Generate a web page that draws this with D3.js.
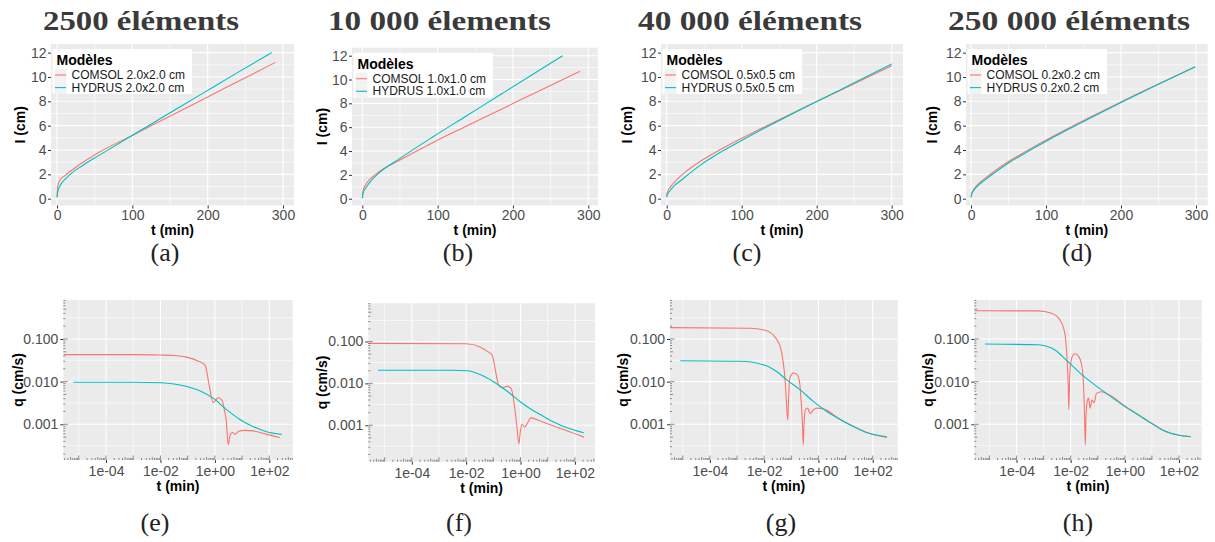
<!DOCTYPE html>
<html><head><meta charset="utf-8">
<script src="https://cdn.jsdelivr.net/npm/d3@7"></script>
<style>body{margin:0;background:#fff} svg{display:block}</style>
</head><body>
<svg id="c" width="1215" height="542"></svg>
<script>
// ---------------- DATA ----------------
const panelTitles = ["2500 éléments", "10 000 élements", "40 000 éléments", "250 000 éléments"];
const captionsTop = ["(a)", "(b)", "(c)", "(d)"];
const captionsBottom = ["(e)", "(f)", "(g)", "(h)"];
const seriesNames = ["COMSOL", "HYDRUS"];
const meshSizes = ["2.0x2.0 cm", "1.0x1.0 cm", "0.5x0.5 cm", "0.2x0.2 cm"];
const legendTitle = "Modèles";

const tTicks = [0, 100, 200, 300];
const tMinorBreaks = [50, 150, 250];
const iTicks = [0, 2, 4, 6, 8, 10, 12];
const iMinorBreaks = [1, 3, 5, 7, 9, 11];
const tLogTicks = [1e-4, 1e-2, 1, 100];
const tLogTickLabels = ["1e-04", "1e-02", "1e+00", "1e+02"];
const tLogMinorBreaks = [1e-5, 1e-3, 0.1, 10];
const qTicks = [0.001, 0.01, 0.1];
const qTickLabels = ["0.001", "0.010", "0.100"];
const qMinorBreaks = [0.000316, 0.00316, 0.0316, 0.316];

// cumulative infiltration I (cm) vs t (min)
const infilA_COMSOL = [[0,0.15],[0.5,0.8],[1.5,1.2],[3.5,1.5],[10,1.88],[25,2.58],[57,3.85],[100,5.2],[130,6.15],[168,7.35],[200,8.36],[250,9.94],[290,11.2]];
const infilA_HYDRUS = [[0,0.1],[1,0.55],[3.5,1.0],[12,1.67],[35,2.77],[57,3.6],[99,5.17],[145,6.87],[190,8.53],[240,10.38],[285,12.0]];
const infilB_COMSOL = [[0,0.3],[1.3,0.73],[5.7,1.29],[19,2.1],[50,3.24],[94,4.72],[138,6.08],[170,7.06],[200,7.98],[236,9.08],[289,10.7]];
const infilB_HYDRUS = [[0,0.03],[1,0.45],[5.7,1.0],[19,1.98],[50,3.38],[94,5.2],[138,6.94],[183,8.72],[227,10.46],[266,12.0]];
const infilC_COMSOL = [[0,0.2],[0.5,0.45],[2.2,0.71],[6,1.05],[13,1.53],[25,2.2],[44,3.04],[70,3.98],[98,4.9],[125,5.74],[156,6.68],[200,7.98],[250,9.45],[300,10.93]];
const infilC_HYDRUS = [[0,0.1],[1,0.35],[4.4,0.65],[10,1.05],[18,1.45],[44,2.72],[70,3.75],[98,4.72],[125,5.62],[156,6.6],[200,7.98],[250,9.52],[300,11.07]];
const infilD_COMSOL = [[0,0.16],[1,0.45],[3.1,0.71],[8,1.1],[18.7,1.67],[30,2.2],[50,3.05],[75,3.95],[99,4.78],[128,5.72],[156,6.6],[200,7.95],[250,9.42],[299,10.85]];
const infilD_HYDRUS = [[0,0.1],[1,0.4],[3.1,0.63],[8,1.0],[18.7,1.55],[30,2.07],[50,2.93],[75,3.85],[99,4.68],[128,5.64],[156,6.53],[200,7.9],[250,9.4],[299,10.85]];

// flux q (cm/s) vs t (min), log-log
const fluxE_COMSOL = [[2.8e-6,0.043],[1e-3,0.043],[0.01,0.042],[0.0316,0.041],[0.1,0.037],[0.251,0.030],[0.436,0.0245],[0.603,0.009],[0.871,0.0032],[1.12,0.0038],[1.32,0.0042],[1.58,0.0040],[1.91,0.0034],[2.29,0.0020],[2.63,0.0012],[3.09,0.00033],[3.47,0.00048],[3.89,0.00061],[4.57,0.00064],[5.37,0.00058],[7.59,0.00069],[12.6,0.00072],[25.7,0.0007],[79.4,0.00058],[245,0.00049]];
const fluxE_HYDRUS = [[6.3e-6,0.0097],[1e-3,0.0097],[0.01,0.0094],[0.0316,0.0088],[0.1,0.0076],[0.316,0.0059],[0.871,0.0041],[2.7,0.0022],[8.3,0.0013],[26,0.00088],[80,0.00067],[282,0.00058]];
const fluxF_COMSOL = [[2.5e-6,0.09],[0.01,0.088],[0.0339,0.073],[0.0603,0.058],[0.0912,0.047],[0.12,0.020],[0.158,0.0089],[0.214,0.0079],[0.324,0.0085],[0.457,0.0074],[0.603,0.0028],[0.759,0.00076],[0.871,0.00036],[1.0,0.00076],[1.15,0.00105],[1.41,0.00091],[2.04,0.0013],[2.34,0.0015],[5.37,0.00126],[16.6,0.00096],[51.3,0.00074],[214,0.00052]];
const fluxF_HYDRUS = [[5.75e-6,0.0205],[3.16e-3,0.0205],[0.011,0.020],[0.0339,0.016],[0.105,0.0108],[0.324,0.0065],[1,0.0036],[3.09,0.0022],[5.37,0.0018],[16.6,0.0012],[51.3,0.00087],[214,0.00066]];
const fluxG_COMSOL = [[3.4e-6,0.185],[3.0e-3,0.178],[0.01,0.162],[0.0166,0.143],[0.0219,0.124],[0.0309,0.091],[0.0389,0.066],[0.049,0.032],[0.0589,0.011],[0.0676,0.0026],[0.0741,0.00126],[0.0813,0.0064],[0.0912,0.013],[0.12,0.016],[0.158,0.015],[0.2,0.010],[0.229,0.0037],[0.257,0.00105],[0.275,0.00033],[0.295,0.00105],[0.331,0.0022],[0.398,0.0024],[0.49,0.0018],[0.66,0.0022],[0.87,0.0024],[1.51,0.0023],[6.3,0.0013],[19.5,0.00089],[60,0.00064],[331,0.00049]];
const fluxG_HYDRUS = [[8.1e-6,0.031],[1.32e-3,0.030],[0.01,0.0245],[0.0295,0.017],[0.0676,0.011],[0.214,0.0064],[0.66,0.0034],[2.04,0.0020],[6.3,0.0013],[19.5,0.00089],[60,0.00064],[331,0.00051]];
const fluxH_COMSOL = [[2.75e-6,0.46],[6.3e-4,0.455],[1.95e-3,0.40],[3.98e-3,0.28],[5.25e-3,0.195],[6.46e-3,0.104],[7.41e-3,0.032],[8.13e-3,0.0076],[8.51e-3,0.0022],[9.12e-3,0.011],[0.0102,0.029],[0.0123,0.042],[0.0151,0.045],[0.0191,0.040],[0.024,0.029],[0.0288,0.013],[0.0324,0.0018],[0.0347,0.00033],[0.0372,0.0018],[0.0417,0.0037],[0.0457,0.0041],[0.0525,0.0024],[0.0617,0.0037],[0.0741,0.0032],[0.0891,0.0053],[0.138,0.0058],[0.251,0.0050],[1,0.0027],[3.09,0.0017],[9.55,0.00107],[30.2,0.0007],[93,0.00056],[275,0.00051]];
const fluxH_HYDRUS = [[6.76e-6,0.076],[6.3e-4,0.073],[2.63e-3,0.055],[8.13e-3,0.029],[0.0251,0.0148],[0.0794,0.0083],[0.251,0.0049],[1,0.0026],[3.09,0.00166],[9.55,0.00105],[30.2,0.00069],[93,0.00056],[275,0.00051]];

const topSeries = [[infilA_COMSOL, infilA_HYDRUS],[infilB_COMSOL, infilB_HYDRUS],[infilC_COMSOL, infilC_HYDRUS],[infilD_COMSOL, infilD_HYDRUS]];
const bottomSeries = [[fluxE_COMSOL, fluxE_HYDRUS],[fluxF_COMSOL, fluxF_HYDRUS],[fluxG_COMSOL, fluxG_HYDRUS],[fluxH_COMSOL, fluxH_HYDRUS]];

// ---------------- LAYOUT / STYLE ----------------
const colors = ["#F8766D", "#00BFC4"];
const SANS = "'Liberation Sans', Arial, Helvetica, sans-serif";
const SERIF = "'Liberation Serif', 'Times New Roman', serif";
const PANEL_BG = "#EBEBEB";

const topBoxes = [
  {l:51,  r:294,    t:44,   b:205.5, xd:[-8,314.6],   yd:[-0.56,12.71], ytx:20,    title:[43,196],  cap:165},
  {l:352, r:598,    t:47.7, b:205.5, xd:[-13.7,312.9],yd:[-0.57,12.67], ytx:321.7, title:[328,223], cap:458},
  {l:661, r:903,    t:44,   b:205.5, xd:[-7.6,315.1], yd:[-0.56,12.71], ytx:626.7, title:[638,224], cap:747},
  {l:966, r:1207.7, t:44,   b:205.5, xd:[-6.7,315.6], yd:[-0.56,12.71], ytx:931.7, title:[948,242], cap:1077}
];
const bottomBoxes = [
  {l:63.3,  r:292.7,  t:300,   b:460,   xe:[-5.57,2.86], ye:[-3.837,-0.086], ytx:18,  cap:155},
  {l:368.3, r:595,    t:303.3, b:461.7, xe:[-5.6,2.74],  ye:[-3.87,-0.088],  ytx:322, cap:459},
  {l:670,   r:897.7,  t:300,   b:460,   xe:[-5.47,2.92], ye:[-3.837,-0.086], ytx:623, cap:781},
  {l:974.3, r:1201.7, t:300,   b:460,   xe:[-5.56,2.84], ye:[-3.837,-0.086], ytx:928, cap:1078}
];

const svg = d3.select("#c");
svg.append("rect").attr("width",1215).attr("height",542).attr("fill","#fff");
const defs = svg.append("defs");

function styleAxis(g){
  g.select(".domain").remove();
  g.selectAll(".tick line").attr("stroke","#333").attr("stroke-width",1);
  g.selectAll(".tick text").attr("fill","#4D4D4D").attr("font-size",14).attr("font-family",SANS);
}

function panelFrame(bx, id){
  const g = svg.append("g");
  g.append("rect").attr("x",bx.l).attr("y",bx.t).attr("width",bx.r-bx.l).attr("height",bx.b-bx.t).attr("fill",PANEL_BG);
  defs.append("clipPath").attr("id",id).append("rect")
    .attr("x",bx.l).attr("y",bx.t).attr("width",bx.r-bx.l).attr("height",bx.b-bx.t);
  return g;
}

function grid(g, bx, x, y, xMaj, xMin, yMaj, yMin){
  const gg = g.append("g");
  const vline = (vals, w) => gg.selectAll(null).data(vals).enter().append("line")
    .attr("x1",d=>x(d)).attr("x2",d=>x(d)).attr("y1",bx.t).attr("y2",bx.b)
    .attr("stroke","#fff").attr("stroke-width",w);
  const hline = (vals, w) => gg.selectAll(null).data(vals).enter().append("line")
    .attr("y1",d=>y(d)).attr("y2",d=>y(d)).attr("x1",bx.l).attr("x2",bx.r)
    .attr("stroke","#fff").attr("stroke-width",w);
  vline(xMin,0.6); hline(yMin,0.6); vline(xMaj,1.1); hline(yMaj,1.1);
}

function drawLines(g, id, series, x, y){
  const line = d3.line().x(d=>x(d[0])).y(d=>y(d[1])).curve(d3.curveMonotoneX);
  const lg = g.append("g").attr("clip-path",`url(#${id})`);
  series.forEach((s,k)=>{
    lg.append("path").datum(s).attr("d",line).attr("fill","none")
      .attr("stroke",colors[k]).attr("stroke-width",1.1).attr("stroke-linejoin","round");
  });
}

// ---------------- TOP PANELS ----------------
topBoxes.forEach((bx,i)=>{
  const id = "clipT"+i;
  const g = panelFrame(bx,id);
  const x = d3.scaleLinear().domain(bx.xd).range([bx.l,bx.r]);
  const y = d3.scaleLinear().domain(bx.yd).range([bx.b,bx.t]);
  grid(g,bx,x,y,tTicks,tMinorBreaks,iTicks,iMinorBreaks);
  drawLines(g,id,topSeries[i],x,y);

  const ax = g.append("g").attr("transform",`translate(0,${bx.b})`)
    .call(d3.axisBottom(x).tickValues(tTicks).tickSize(3).tickPadding(1.5).tickFormat(d3.format("d")));
  styleAxis(ax);
  const ay = g.append("g").attr("transform",`translate(${bx.l},0)`)
    .call(d3.axisLeft(y).tickValues(iTicks).tickSize(3).tickPadding(1.5).tickFormat(d3.format("d")));
  styleAxis(ay);

  g.append("text").attr("x",(bx.l+bx.r)/2).attr("y",bx.b+29.5).attr("text-anchor","middle")
    .attr("font-family",SANS).attr("font-weight","bold").attr("font-size",14).text("t (min)");
  g.append("text").attr("transform",`translate(${bx.ytx},${(bx.t+bx.b)/2}) rotate(-90)`)
    .attr("dy","0.35em").attr("text-anchor","middle")
    .attr("font-family",SANS).attr("font-weight","bold").attr("font-size",14).text("I (cm)");

  // legend
  const lx = bx.l+1.5, ly = bx.t+5;
  const leg = g.append("g");
  const box = leg.append("rect").attr("x",lx).attr("y",ly).attr("height",45).attr("fill","#fff");
  leg.append("text").attr("x",lx+4).attr("y",ly+16).attr("font-family",SANS).attr("font-weight","bold")
    .attr("font-size",14).attr("fill","#000").text(legendTitle);
  let maxW = 0;
  seriesNames.forEach((nm,k)=>{
    const by = ly + 30 + k*12.6;
    leg.append("rect").attr("x",lx+2).attr("y",by-10).attr("width",12).attr("height",12.4).attr("fill","#F2F2F2");
    leg.append("line").attr("x1",lx+2.5).attr("x2",lx+13.5).attr("y1",by-4).attr("y2",by-4)
      .attr("stroke",colors[k]).attr("stroke-width",1.1);
    const t = leg.append("text").attr("x",lx+19).attr("y",by).attr("font-family",SANS)
      .attr("font-size",12).attr("fill","#1a1a1a").text(nm+" "+meshSizes[i]);
    maxW = Math.max(maxW, t.node().getComputedTextLength());
  });
  box.attr("width", maxW+19+7);

  // title and caption
  svg.append("text").attr("x",bx.title[0]).attr("y",29.5).attr("textLength",bx.title[1])
    .attr("lengthAdjust","spacingAndGlyphs").attr("font-family",SERIF).attr("font-weight","bold")
    .attr("font-size",28).attr("fill","#3a3a3a").text(panelTitles[i]);
  svg.append("text").attr("x",bx.cap).attr("y",261).attr("text-anchor","middle")
    .attr("font-family",SERIF).attr("font-size",26).attr("fill","#222").text(captionsTop[i]);
});

// ---------------- BOTTOM PANELS ----------------
function logTicks(g, bx, x, y){
  const lt = g.append("g").attr("stroke","#444").attr("stroke-width",0.6);
  const len = k => k===1 ? 4.5 : (k===5 ? 3 : 2);
  const [x0,x1] = x.domain(), [y0,y1] = y.domain();
  for(let n=Math.floor(Math.log10(x0)); n<=Math.ceil(Math.log10(x1)); n++){
    for(let k=1;k<=9;k++){
      const v = k*Math.pow(10,n);
      if(v<x0||v>x1) continue;
      lt.append("line").attr("x1",x(v)).attr("x2",x(v)).attr("y1",bx.b).attr("y2",bx.b-len(k));
    }
  }
  for(let n=Math.floor(Math.log10(y0)); n<=Math.ceil(Math.log10(y1)); n++){
    for(let k=1;k<=9;k++){
      const v = k*Math.pow(10,n);
      if(v<y0||v>y1) continue;
      lt.append("line").attr("y1",y(v)).attr("y2",y(v)).attr("x1",bx.l).attr("x2",bx.l+len(k));
    }
  }
}

bottomBoxes.forEach((bx,i)=>{
  const id = "clipB"+i;
  const g = panelFrame(bx,id);
  const x = d3.scaleLog().domain([Math.pow(10,bx.xe[0]),Math.pow(10,bx.xe[1])]).range([bx.l,bx.r]);
  const y = d3.scaleLog().domain([Math.pow(10,bx.ye[0]),Math.pow(10,bx.ye[1])]).range([bx.b,bx.t]);
  grid(g,bx,x,y,tLogTicks,tLogMinorBreaks,qTicks,qMinorBreaks);
  drawLines(g,id,bottomSeries[i],x,y);
  logTicks(g,bx,x,y);

  const ax = g.append("g").attr("transform",`translate(0,${bx.b})`)
    .call(d3.axisBottom(x).tickValues(tLogTicks).tickSize(3).tickPadding(3.5)
      .tickFormat((d,j)=>tLogTickLabels[j]));
  styleAxis(ax);
  const ay = g.append("g").attr("transform",`translate(${bx.l},0)`)
    .call(d3.axisLeft(y).tickValues(qTicks).tickSize(3).tickPadding(2)
      .tickFormat((d,j)=>qTickLabels[j]));
  styleAxis(ay);

  g.append("text").attr("x",(bx.l+bx.r)/2).attr("y",bx.b+31).attr("text-anchor","middle")
    .attr("font-family",SANS).attr("font-weight","bold").attr("font-size",14).text("t (min)");
  g.append("text").attr("transform",`translate(${bx.ytx},${(bx.t+bx.b)/2}) rotate(-90)`)
    .attr("dy","0.35em").attr("text-anchor","middle")
    .attr("font-family",SANS).attr("font-weight","bold").attr("font-size",14).text("q (cm/s)");

  svg.append("text").attr("x",bx.cap).attr("y",531).attr("text-anchor","middle")
    .attr("font-family",SERIF).attr("font-size",26).attr("fill","#222").text(captionsBottom[i]);
});
</script>
</body></html>
